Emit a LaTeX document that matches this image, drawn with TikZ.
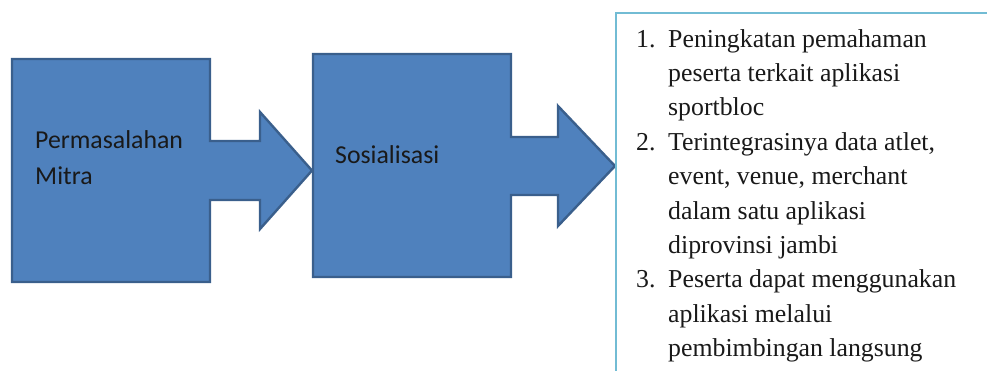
\documentclass[tikz,border=0pt]{standalone}
\usepackage{fontspec}
\setmainfont{Liberation Serif}
\newfontfamily\calib{Carlito}
\definecolor{boxfill}{HTML}{4F81BD}
\definecolor{boxline}{HTML}{3A5F8C}
\definecolor{tline}{HTML}{72BCD4}
\begin{document}
\begin{tikzpicture}[x=1pt,y=-1pt,
  callout/.style={fill=boxfill,draw=boxline,line width=2.4pt,line join=miter},
  sanslbl/.style={anchor=base west,inner sep=0pt,font=\calib\fontsize{25.8}{36}\selectfont,text=black!90},
  serifln/.style={anchor=base west,inner sep=0pt,font=\fontsize{25.8}{34}\selectfont,text=black!90}]
\useasboundingbox (0,0) rectangle (987,370);
\begin{scope}
\clip (0,0) rectangle (987,370);
% first callout
\draw[callout] (12,59) -- (210,59) -- (210,141) -- (260,141) -- (260,112) -- (312,170.5)
  -- (260,229) -- (260,200) -- (210,200) -- (210,282) -- (12,282) -- cycle;
% second callout
\draw[callout] (313,54) -- (511,54) -- (511,137) -- (558,137) -- (558,106) -- (615,166)
  -- (558,226) -- (558,195) -- (511,195) -- (511,277) -- (313,277) -- cycle;
% text box
\draw[draw=tline,line width=1.6pt,fill=white] (616,13) rectangle (1000,400);
\end{scope}
\node[sanslbl] (pm1) at (35,148) {Permasalahan};
\node[sanslbl] (pm2) at (35,184) {Mitra};
\node[sanslbl] (sos) at (335,163) {Sosialisasi};
% list
\node[serifln] (n1) at (636,47) {1.};
\node[serifln] (a1) at (668,47) {Peningkatan pemahaman};
\node[serifln] (a2) at (668,81.4) {peserta terkait aplikasi};
\node[serifln] (a3) at (668,115.8) {sportbloc};
\node[serifln] (n2) at (636,150.2) {2.};
\node[serifln] (b1) at (668,150.2) {Terintegrasinya data atlet,};
\node[serifln] (b2) at (668,184.6) {event, venue, merchant};
\node[serifln] (b3) at (668,219) {dalam satu aplikasi};
\node[serifln] (b4) at (668,253.4) {diprovinsi jambi};
\node[serifln] (n3) at (636,287.8) {3.};
\node[serifln] (c1) at (668,287.8) {Peserta dapat menggunakan};
\node[serifln] (c2) at (668,322.2) {aplikasi melalui};
\node[serifln] (c3) at (668,356.6) {pembimbingan langsung};
\end{tikzpicture}
\end{document}
